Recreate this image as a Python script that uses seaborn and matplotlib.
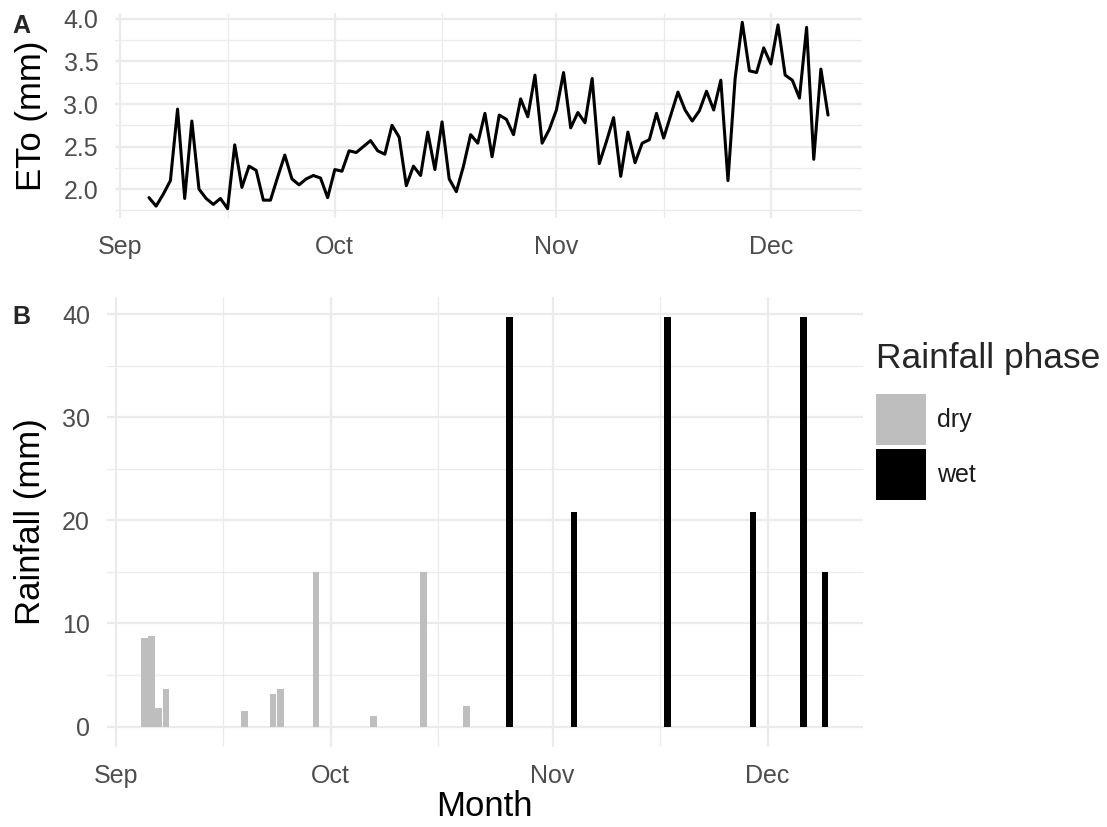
import numpy as np
import pandas as pd
import matplotlib
matplotlib.use("Agg")
import matplotlib.pyplot as plt
import matplotlib.dates as mdates
from matplotlib.patches import Patch
from matplotlib.ticker import FixedLocator, MultipleLocator
import seaborn as sns

# ---------------- data ----------------
eto_start = "2021-09-05"
eto_values = [
    # Sep 5 - Sep 30
    1.90, 1.80, 1.94, 2.10, 2.94, 1.89, 2.80, 2.00, 1.89, 1.82, 1.89, 1.77, 2.52,
    2.02, 2.27, 2.22, 1.87, 1.87, 2.14, 2.40, 2.12, 2.05, 2.12, 2.16, 2.13, 1.90,
    # Oct 1 - Oct 31
    2.23, 2.21, 2.45, 2.43, 2.50, 2.57, 2.45, 2.41, 2.75, 2.61, 2.04, 2.27, 2.16,
    2.67, 2.23, 2.79, 2.12, 1.97, 2.27, 2.64, 2.54, 2.89, 2.38, 2.87, 2.82, 2.64,
    3.06, 2.85, 3.34, 2.54, 2.70,
    # Nov 1 - Nov 30
    2.93, 3.37, 2.72, 2.90, 2.78, 3.30, 2.30, 2.56, 2.84, 2.15, 2.67, 2.31, 2.54,
    2.58, 2.89, 2.60, 2.87, 3.14, 2.93, 2.80, 2.92, 3.15, 2.93, 3.28, 2.10, 3.30,
    3.96, 3.39, 3.37, 3.66,
    # Dec 1 - Dec 9
    3.47, 3.93, 3.34, 3.28, 3.07, 3.90, 2.35, 3.41, 2.87,
]

rain_dates = ["2021-09-05", "2021-09-06", "2021-09-07", "2021-09-08", "2021-09-19",
              "2021-09-23", "2021-09-24", "2021-09-29", "2021-10-07", "2021-10-14",
              "2021-10-20", "2021-10-26", "2021-11-04", "2021-11-17", "2021-11-29",
              "2021-12-06", "2021-12-09"]
rain_values = [8.6, 8.8, 1.8, 3.6, 1.55, 3.2, 3.6, 15.0, 1.0, 15.0,
               2.0, 39.7, 20.8, 39.7, 20.8, 39.7, 15.0]
rain_phase = ["dry", "dry", "dry", "dry", "dry", "dry", "dry", "dry", "dry", "dry",
              "dry", "wet", "wet", "wet", "wet", "wet", "wet"]

month_ticks = ["2021-09-01", "2021-10-01", "2021-11-01", "2021-12-01"]
month_labels = ["Sep", "Oct", "Nov", "Dec"]
minor_ticks = ["2021-09-16", "2021-10-16", "2021-11-16"]

phase_order = ["dry", "wet"]
phase_colors = {"dry": "#BEBEBE", "wet": "#000000"}

# ---------------- frames ----------------
eto_dates = pd.date_range(eto_start, periods=len(eto_values), freq="D")
df_eto = pd.DataFrame({"day": mdates.date2num(eto_dates), "eto": eto_values})
df_rain = pd.DataFrame({"day": mdates.date2num(pd.to_datetime(rain_dates)),
                        "rain": rain_values, "phase": rain_phase})

# ---------------- style ----------------
sns.set_theme(style="white")
plt.rcParams["font.family"] = ["Liberation Sans", "DejaVu Sans"]

W, H = 1107, 827
fig = plt.figure(figsize=(W / 100, H / 100), dpi=100)

def px_axes(left, top, right, bottom):
    return fig.add_axes([left / W, 1 - bottom / H, (right - left) / W, (bottom - top) / H])

ax1 = px_axes(115, 13, 862, 218)
ax2 = px_axes(106.7, 297, 862.5, 747)

tick_col = "#4D4D4D"
grid_col = "#EBEBEB"

def style_axes(ax):
    for s in ax.spines.values():
        s.set_visible(False)
    ax.set_axisbelow(True)
    ax.grid(which="major", color=grid_col, lw=1.6)
    ax.grid(which="minor", color=grid_col, lw=0.9)
    ax.tick_params(which="both", length=0, colors=tick_col, labelsize=18)
    ax.tick_params(axis="x", pad=12)
    ax.tick_params(axis="y", pad=12)
    ax.xaxis.set_major_locator(FixedLocator(mdates.date2num(pd.to_datetime(month_ticks))))
    ax.set_xticklabels(month_labels)
    ax.xaxis.set_minor_locator(FixedLocator(mdates.date2num(pd.to_datetime(minor_ticks))))

# ---------------- panel A ----------------
sns.lineplot(data=df_eto, x="day", y="eto", color="black", lw=2.2, ax=ax1)
style_axes(ax1)
xmin, xmax = df_eto["day"].min(), df_eto["day"].max()
ex = 0.05 * (xmax - xmin)
ax1.set_xlim(xmin - ex, xmax + ex)
ymin, ymax = df_eto["eto"].min(), df_eto["eto"].max()
ey = 0.05 * (ymax - ymin)
ax1.set_ylim(ymin - ey, ymax + ey)
ax1.yaxis.set_major_locator(FixedLocator([2.0, 2.5, 3.0, 3.5, 4.0]))
ax1.yaxis.set_minor_locator(MultipleLocator(0.25))
ax1.set_yticklabels(["2.0", "2.5", "3.0", "3.5", "4.0"])
ax1.set_xlabel("")
ax1.set_ylabel("ETo (mm)", fontsize=25, color="black", va="center")
ax1.yaxis.set_label_coords((32 - 115) / (862 - 115), 0.5)

# ---------------- panel B ----------------
sns.barplot(data=df_rain, x="day", y="rain", hue="phase", hue_order=phase_order,
            palette=phase_colors, native_scale=True, dodge=False, width=0.9,
            errorbar=None, saturation=1, linewidth=0, ax=ax2, legend=False)
style_axes(ax2)
bw = 0.45
xmin2, xmax2 = df_rain["day"].min() - bw, df_rain["day"].max() + bw
ex2 = 0.05 * (xmax2 - xmin2)
ax2.set_xlim(xmin2 - ex2, xmax2 + ex2)
ymax2 = df_rain["rain"].max()
ax2.set_ylim(-0.05 * ymax2, ymax2 * 1.05)
ax2.yaxis.set_major_locator(FixedLocator([0, 10, 20, 30, 40]))
ax2.yaxis.set_minor_locator(MultipleLocator(5))
ax2.set_yticklabels(["0", "10", "20", "30", "40"])
ax2.set_ylabel("Rainfall (mm)", fontsize=25, color="black", va="center")
ax2.yaxis.set_label_coords((31 - 106.7) / (862.5 - 106.7), 0.5)
ax2.set_xlabel("Month", fontsize=25, color="black", va="center")
ax2.xaxis.set_label_coords(0.5, (747 - 807) / (747 - 297))

handles = [Patch(facecolor=phase_colors[p], edgecolor="none", label=p) for p in phase_order]
leg = ax2.legend(handles=handles, title="Rainfall phase", loc="upper left",
                 bbox_to_anchor=(876 / W, 1 - 342 / H), bbox_transform=fig.transFigure,
                 frameon=False, fontsize=18, title_fontsize=25.5, handlelength=2.0,
                 handleheight=2.75, handletextpad=0.45, labelspacing=0.15,
                 borderpad=0, borderaxespad=0, alignment="left")
for t in leg.get_texts():
    t.set_color("#1A1A1A")
leg._legend_box.sep = 14

# panel tags
fig.text(21.5 / W, 1 - 26 / H, "A", fontsize=18, fontweight="bold", ha="center", va="center")
fig.text(21 / W, 1 - 317.5 / H, "B", fontsize=18, fontweight="bold", ha="center", va="center")

fig.savefig("out.png", dpi=100)
